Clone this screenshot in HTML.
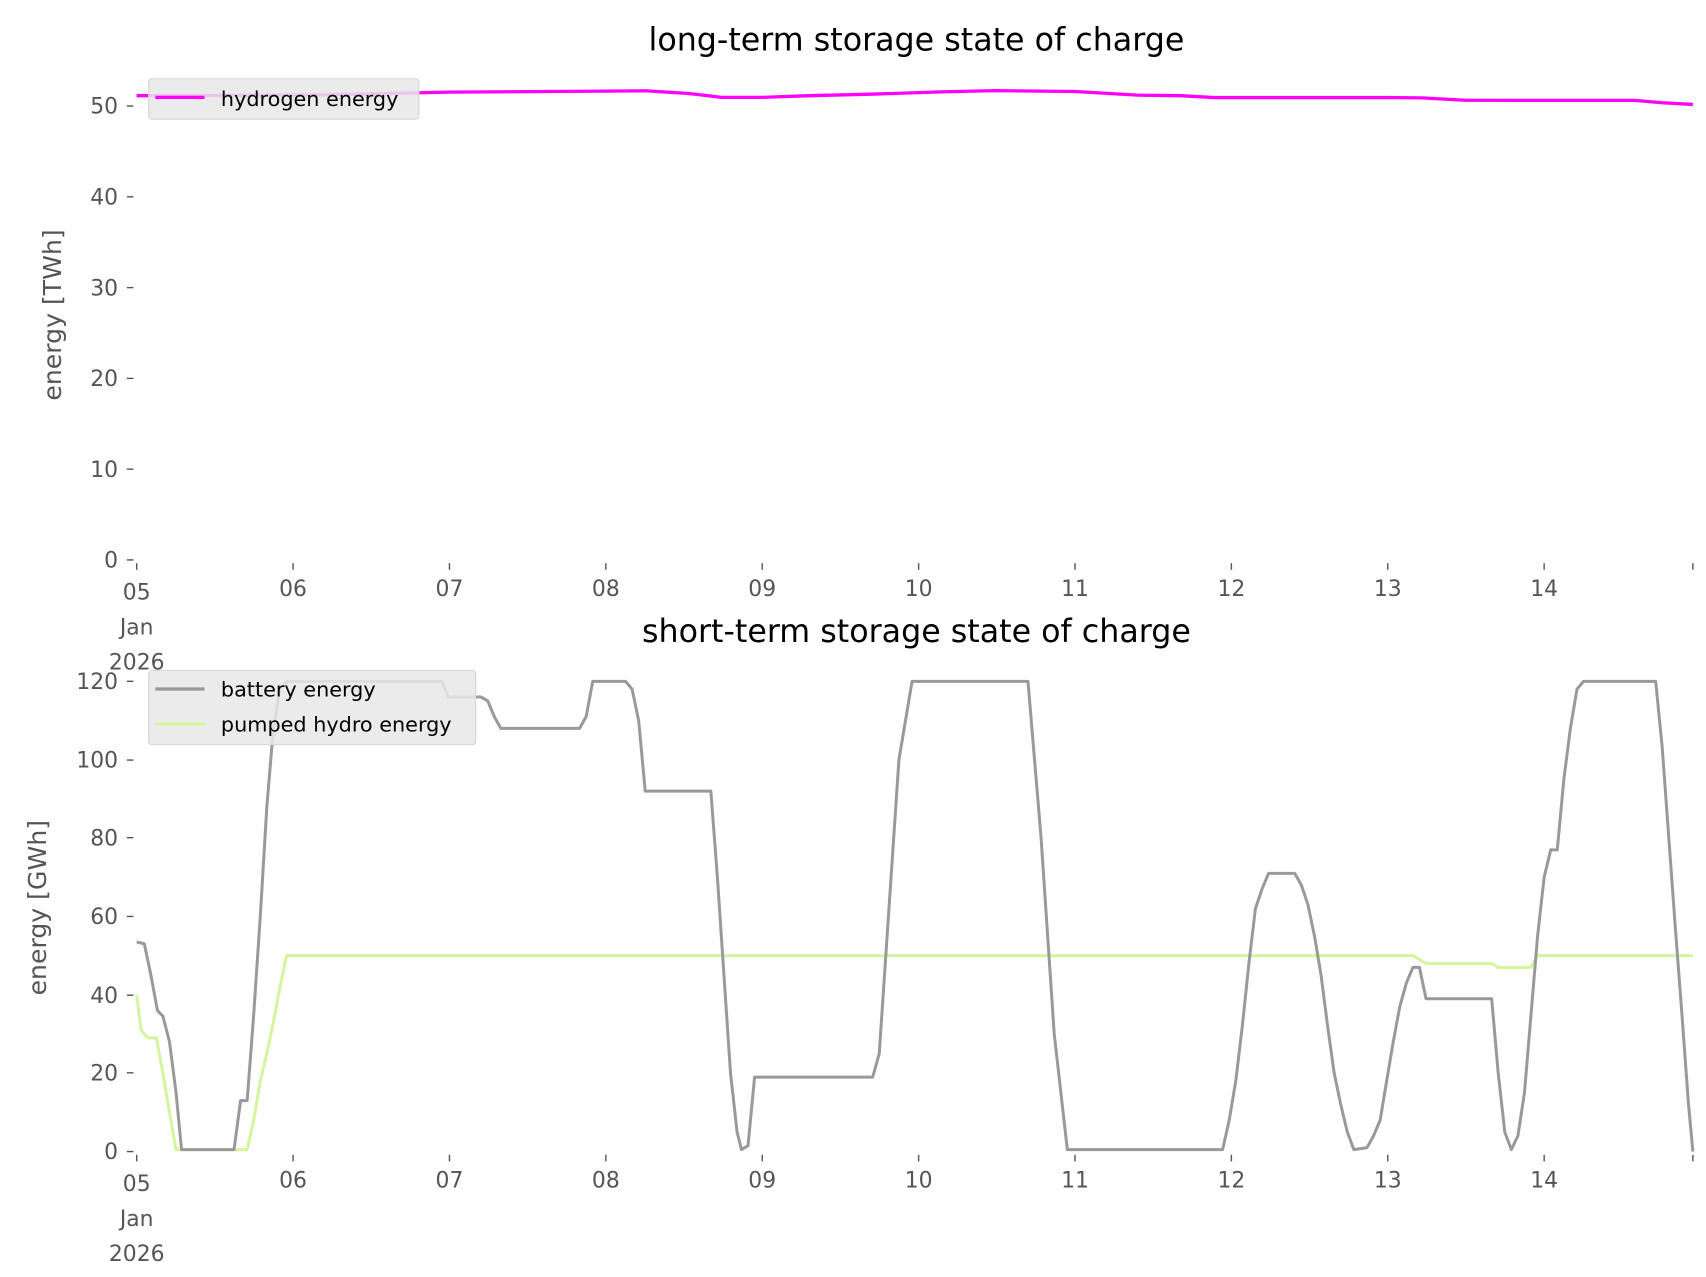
<!DOCTYPE html>
<html><head><meta charset="utf-8"><style>
html,body{margin:0;padding:0;background:#fff;}
svg{display:block;}
text{font-family:"DejaVu Sans","Liberation Sans",sans-serif;}
.t{fill:#555;font-size:20px;}
.ti{font-size:29px;fill:#000;}
.yl{fill:#555;font-size:23px;}
</style></head><body>
<svg width="1706" height="1277" viewBox="0 0 1560 1167.7" preserveAspectRatio="none" xmlns="http://www.w3.org/2000/svg">
<!-- TOP -->
<text class="ti" x="838" y="46" text-anchor="middle">long-term storage state of charge</text>
<g class="t" text-anchor="end">
<text x="108" y="519">0</text><text x="108" y="436">10</text><text x="108" y="353">20</text><text x="108" y="270">30</text><text x="108" y="187">40</text><text x="108" y="104">50</text>
</g>
<g stroke="#555" stroke-width="1.3">
<line x1="116" y1="512" x2="122" y2="512"/><line x1="116" y1="429" x2="122" y2="429"/><line x1="116" y1="346" x2="122" y2="346"/><line x1="116" y1="263" x2="122" y2="263"/><line x1="116" y1="180" x2="122" y2="180"/><line x1="116" y1="97" x2="122" y2="97"/>
<line x1="125" y1="515" x2="125" y2="521"/><line x1="268" y1="515" x2="268" y2="521"/><line x1="411" y1="515" x2="411" y2="521"/><line x1="554" y1="515" x2="554" y2="521"/><line x1="697" y1="515" x2="697" y2="521"/><line x1="840" y1="515" x2="840" y2="521"/><line x1="983" y1="515" x2="983" y2="521"/><line x1="1126" y1="515" x2="1126" y2="521"/><line x1="1269" y1="515" x2="1269" y2="521"/><line x1="1412" y1="515" x2="1412" y2="521"/><line x1="1548" y1="515" x2="1548" y2="521"/>
</g>
<g class="t" text-anchor="middle">
<text x="125" y="548">05</text><text x="125" y="580">Jan</text><text x="125" y="612">2026</text>
<text x="268" y="545">06</text><text x="411" y="545">07</text><text x="554" y="545">08</text><text x="697" y="545">09</text><text x="840" y="545">10</text><text x="983" y="545">11</text><text x="1126" y="545">12</text><text x="1269" y="545">13</text><text x="1412" y="545">14</text>
</g>
<text class="yl" transform="translate(56,288) rotate(-90)" text-anchor="middle">energy [TWh]</text>
<polyline fill="none" stroke="#ff00ff" stroke-width="3" points="125,87.5 200,87.3 300,86.7 411,84.2 500,83.7 554,83.3 590,83 630,85.5 660,89 697,89 740,87.5 800,86 860,84 910,82.9 940,83.2 983,83.7 1040,87 1080,87.5 1110,89.2 1269,89.2 1300,89.5 1340,91.7 1400,91.8 1495,91.8 1520,94 1548,95.5"/>
<rect x="136" y="72" width="247" height="37" rx="3" fill="#e8e8e8" fill-opacity="0.85" stroke="#d5d5d5"/>
<line x1="142" y1="89" x2="187" y2="89" stroke="#ff00ff" stroke-width="3"/>
<text x="202" y="97" font-size="19" fill="#000">hydrogen energy</text>

<!-- BOTTOM -->
<text class="ti" x="838" y="587" text-anchor="middle">short-term storage state of charge</text>
<g class="t" text-anchor="end">
<text x="108" y="1060">0</text><text x="108" y="988">20</text><text x="108" y="917">40</text><text x="108" y="845">60</text><text x="108" y="773">80</text><text x="108" y="702">100</text><text x="108" y="630">120</text>
</g>
<g stroke="#555" stroke-width="1.3">
<line x1="116" y1="1053" x2="122" y2="1053"/><line x1="116" y1="981" x2="122" y2="981"/><line x1="116" y1="910" x2="122" y2="910"/><line x1="116" y1="838" x2="122" y2="838"/><line x1="116" y1="766" x2="122" y2="766"/><line x1="116" y1="695" x2="122" y2="695"/><line x1="116" y1="623" x2="122" y2="623"/>
<line x1="125" y1="1056" x2="125" y2="1062"/><line x1="268" y1="1056" x2="268" y2="1062"/><line x1="411" y1="1056" x2="411" y2="1062"/><line x1="554" y1="1056" x2="554" y2="1062"/><line x1="697" y1="1056" x2="697" y2="1062"/><line x1="840" y1="1056" x2="840" y2="1062"/><line x1="983" y1="1056" x2="983" y2="1062"/><line x1="1126" y1="1056" x2="1126" y2="1062"/><line x1="1269" y1="1056" x2="1269" y2="1062"/><line x1="1412" y1="1056" x2="1412" y2="1062"/><line x1="1548" y1="1056" x2="1548" y2="1062"/>
</g>
<g class="t" text-anchor="middle">
<text x="125" y="1089">05</text><text x="125" y="1121">Jan</text><text x="125" y="1153">2026</text>
<text x="268" y="1086">06</text><text x="411" y="1086">07</text><text x="554" y="1086">08</text><text x="697" y="1086">09</text><text x="840" y="1086">10</text><text x="983" y="1086">11</text><text x="1126" y="1086">12</text><text x="1269" y="1086">13</text><text x="1412" y="1086">14</text>
</g>
<text class="yl" transform="translate(42,830) rotate(-90)" text-anchor="middle">energy [GWh]</text>
<g transform="translate(0,1053) scale(1,-3.583)">
<polyline fill="none" stroke="#d4f59c" stroke-width="3" vector-effect="non-scaling-stroke" stroke-linejoin="round" points="125,40 129,31 135,29 143,29 149,20 155,10 161,0.5 226,0.5 232,8 238,18 244,25 250,33 256,42 262,50 1292,50 1298,49 1304,48 1364,48 1370,47 1400,47 1406,50 1548,50"/>
<polyline fill="none" stroke="#999" stroke-width="3" vector-effect="non-scaling-stroke" stroke-linejoin="round" points="125,53.5 132,53 138,45 144,36 149,34.5 155,28 161,15 166,0.5 214,0.5 220,13 226,13 232,35 238,60 244,88 250,108 256,118 262,120 404,120 410,116 440,116 446,115 452,111 458,108 530,108 536,111 542,120 572,120 578,118 584,110 590,92 650,92 656,70 662,45 668,20 674,5 678,0.5 684,1.5 690,19 798,19 804,25 810,50 822,100 834,120 940,120 952,80 964,30 976,0.5 1118,0.5 1124,8 1130,18 1136,32 1142,48 1148,62 1154,67 1160,71 1184,71 1190,68 1196,63 1202,55 1208,45 1214,32 1220,20 1226,12 1232,5 1238,0.5 1250,1 1256,4 1262,8 1268,18 1274,28 1280,37 1286,43 1292,47 1298,47 1304,39 1364,39 1370,20 1376,5 1382,0.5 1388,4 1394,15 1400,35 1406,55 1412,70 1418,77 1424,77 1430,95 1436,108 1442,118 1448,120 1514,120 1520,103 1526,80 1532,57 1538,35 1544,12 1548,0"/>
</g>
<rect x="136" y="613" width="299" height="68" rx="3" fill="#e8e8e8" fill-opacity="0.85" stroke="#d5d5d5"/>
<line x1="142" y1="630" x2="187" y2="630" stroke="#999" stroke-width="3"/>
<text x="202" y="637" font-size="19" fill="#000">battery energy</text>
<line x1="142" y1="662" x2="187" y2="662" stroke="#d4f59c" stroke-width="3"/>
<text x="202" y="669" font-size="19" fill="#000">pumped hydro energy</text>
</svg>
</body></html>
